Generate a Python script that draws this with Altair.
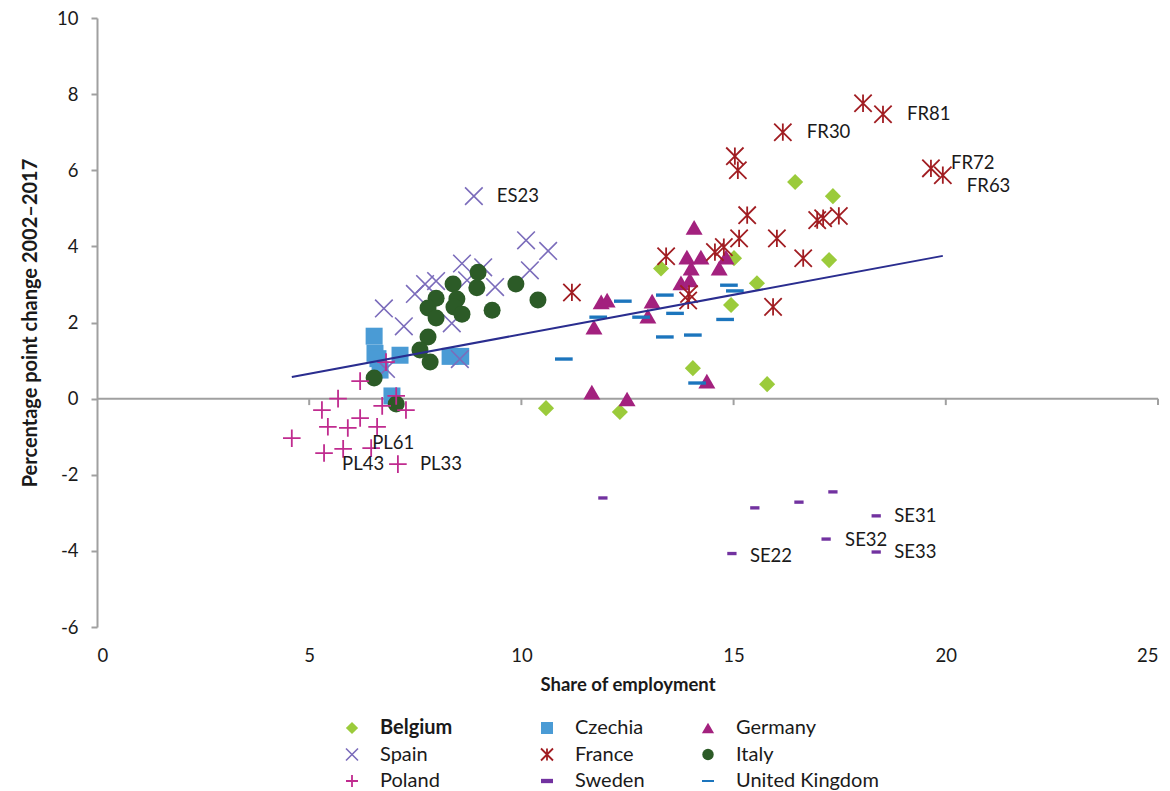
import altair as alt
import pandas as pd

FONT = "Lato"
TEXT = "#1a1a1a"
GRAY = "#a0a0a0"

# Share of employment (%) and percentage point change 2002-2017, by NUTS-2 region
belgium_x = [10.58, 12.32, 13.29, 14.04, 14.94, 15.01, 15.55, 15.79, 16.45, 17.25, 17.34]
belgium_y = [-0.25, -0.35, 3.42, 0.80, 2.46, 3.69, 3.03, 0.38, 5.69, 3.64, 5.32]

czechia_x = [6.53, 6.55, 6.62, 7.14, 6.67, 6.95, 8.32, 8.57]
czechia_y = [1.64, 1.19, 1.05, 1.14, 0.75, 0.07, 1.11, 1.11]

germany_x = [14.07, 13.90, 14.23, 14.00, 14.66, 14.82, 13.76, 13.97, 13.08, 12.98,
             11.88, 12.02, 11.71, 11.66, 12.49, 14.37]
germany_y = [4.50, 3.72, 3.72, 3.43, 3.43, 3.72, 3.04, 3.12, 2.56, 2.17,
             2.54, 2.59, 1.88, 0.17, -0.01, 0.46]

spain_x = [8.88, 10.11, 10.63, 10.20, 8.60, 9.10, 9.38, 7.73, 7.99, 7.49,
           6.76, 7.23, 8.36, 8.55, 6.81, 8.72]
spain_y = [5.32, 4.16, 3.88, 3.37, 3.55, 3.45, 2.93, 3.01, 3.09, 2.75,
           2.37, 1.90, 1.98, 1.04, 0.78, 3.11]
spain_code = ["ES23"] + [""] * 15

france_x = [18.05, 18.52, 16.16, 15.03, 15.10, 19.65, 19.93, 15.32, 15.13, 16.02,
            16.97, 17.11, 17.48, 16.64, 13.41, 14.56, 14.77, 13.95, 13.93, 15.93, 11.19]
france_y = [7.76, 7.47, 7.00, 6.37, 6.00, 6.05, 5.87, 4.82, 4.21, 4.21,
            4.69, 4.74, 4.80, 3.69, 3.74, 3.85, 3.98, 2.75, 2.58, 2.41, 2.79]
france_code = ["", "FR81", "FR30", "", "", "FR72", "FR63"] + [""] * 14

italy_x = [8.98, 8.95, 9.87, 10.39, 9.31, 8.39, 8.48, 8.41, 8.60, 7.99,
           7.80, 7.99, 7.80, 7.61, 7.85, 6.53, 7.05]
italy_y = [3.32, 2.91, 3.01, 2.59, 2.32, 3.01, 2.62, 2.41, 2.22, 2.64,
           2.38, 2.12, 1.62, 1.28, 0.96, 0.54, -0.14]

poland_x = [6.20, 5.68, 5.30, 6.20, 5.44, 5.91, 6.60, 6.72, 7.05, 7.28,
            6.81, 4.59, 5.35, 5.80, 6.46, 7.09]
poland_y = [0.46, 0.00, -0.30, -0.51, -0.74, -0.77, -0.74, -0.19, 0.07, -0.30,
            0.96, -1.04, -1.43, -1.32, -1.30, -1.72]
poland_code = [""] * 12 + ["PL43", "", "PL61", "PL33"]

sweden_x = [11.92, 15.50, 16.54, 17.34, 18.36, 17.18, 18.36, 14.96]
sweden_y = [-2.61, -2.87, -2.72, -2.45, -3.08, -3.69, -4.03, -4.07]
sweden_code = ["", "", "", "", "SE31", "SE32", "SE33", "SE22"]

uk_x = [11.00, 11.81, 12.39, 12.82, 13.38, 13.62, 13.38, 14.04, 14.89, 15.03, 14.80, 14.14]
uk_y = [1.04, 2.14, 2.56, 2.14, 2.72, 2.24, 1.62, 1.67, 2.98, 2.83, 2.08, 0.41]

# Linear trend across all regions
trend_x = [4.59, 19.93]
trend_y = [0.57, 3.75]

countries = ["Belgium", "Czechia", "Germany", "Spain", "France",
             "Italy", "Poland", "Sweden", "United Kingdom"]
values = {
    "Belgium": (belgium_x, belgium_y, None),
    "Czechia": (czechia_x, czechia_y, None),
    "Germany": (germany_x, germany_y, None),
    "Spain": (spain_x, spain_y, spain_code),
    "France": (france_x, france_y, france_code),
    "Italy": (italy_x, italy_y, None),
    "Poland": (poland_x, poland_y, poland_code),
    "Sweden": (sweden_x, sweden_y, sweden_code),
    "United Kingdom": (uk_x, uk_y, None),
}

# Marker styles: shape, filled, colour, stroke width, size in plot, size in legend
X_PATH = "M-1,-1L1,1M-1,1L1,-1"
PLUS_PATH = "M-1,0L1,0M0,-1L0,1"
STAR_PATH = "M-1,-1L1,1M-1,1L1,-1M0,-1L0,1"
SHORT_DASH = "M-1,-0.36L1,-0.36L1,0.36L-1,0.36Z"
LONG_DASH = "M-1,-0.19L1,-0.19L1,0.19L-1,0.19Z"
LEGEND_DASH = "M-1,-0.17L1,-0.17L1,0.17L-1,0.17Z"
styles = {
    "Belgium": dict(shape="diamond", filled=True, color="#9bcb3b", sw=0, size=260, lsize=150),
    "Czechia": dict(shape="square", filled=True, color="#4a9bd5", sw=0, size=289, lsize=144),
    "Germany": dict(shape="triangle-up", filled=True, color="#a3217e", sw=0, size=289, lsize=150),
    "Spain": dict(shape=X_PATH, filled=False, color="#7b6cbb", sw=1.6, size=310, lsize=144),
    "France": dict(shape=STAR_PATH, filled=False, color="#a11d22", sw=1.8, size=300, lsize=144),
    "Italy": dict(shape="circle", filled=True, color="#2c5b27", sw=0, size=289, lsize=130),
    "Poland": dict(shape=PLUS_PATH, filled=False, color="#c02b8f", sw=1.8, size=310, lsize=144),
    "Sweden": dict(shape=SHORT_DASH, filled=True, color="#7232a0", sw=0, size=86, lsize=144),
    "United Kingdom": dict(shape=LONG_DASH, filled=True, color="#1c75bd", sw=0, size=313, lsize=144),
}
legend_shape = {"United Kingdom": LEGEND_DASH}

# Offsets of the region labels from their markers (dx, dy)
label_offsets = {
    "ES23": (23, 0), "FR30": (24, 0), "FR81": (24, 0), "FR72": (20, -5), "FR63": (24, 11),
    "SE31": (18, 0), "SE32": (19, 1), "SE33": (18, 0), "SE22": (18, 2),
    "PL61": (1, -5), "PL43": (18, 11), "PL33": (22, 0),
}

x_ticks = [0, 5, 10, 15, 20, 25]
y_ticks = list(range(-6, 11, 2))

x_scale = alt.Scale(domain=[0, 25], nice=False, zero=False)
y_scale = alt.Scale(domain=[-6, 10], nice=False, zero=False)
x_axis = alt.Axis(values=x_ticks, domain=False, ticks=False, tickSize=0, grid=False,
                  labelPadding=19, labelFont=FONT, labelFontSize=18.5, labelColor=TEXT,
                  title="Share of employment", titleFont=FONT, titleFontSize=18.5,
                  titleFontWeight="bold", titleColor=TEXT, titlePadding=11)
y_axis = alt.Axis(values=y_ticks, grid=False, domainColor=GRAY, domainWidth=2,
                  tickColor=GRAY, tickWidth=2, tickSize=6, labelPadding=13,
                  labelExpr="datum.value + ''", labelFont=FONT, labelFontSize=18.5,
                  labelColor=TEXT, title="Percentage point change 2002–2017",
                  titleFont=FONT, titleFontSize=20, titleFontWeight="bold",
                  titleColor=TEXT, titlePadding=16)


def X(field):
    return alt.X(field, type="quantitative", scale=x_scale, axis=x_axis)


def Y(field):
    return alt.Y(field, type="quantitative", scale=y_scale, axis=y_axis)


def marker(data, st, size, shape=None):
    if st["filled"]:
        mark = dict(filled=True, color=st["color"], strokeWidth=0, opacity=1)
    else:
        mark = dict(filled=False, color=st["color"], strokeWidth=st["sw"], opacity=1)
    return alt.Chart(data).mark_point(shape=shape or st["shape"], size=size, **mark)


layers = []

# zero line with its tick marks
zero_df = pd.DataFrame({"x": [x_ticks[0]], "x2": [x_ticks[-1]], "y": [0]})
layers.append(alt.Chart(zero_df).mark_rule(color=GRAY, strokeWidth=2).encode(
    x=X("x"), x2="x2", y=Y("y")))
tick_df = pd.DataFrame({"x": x_ticks[1:], "y": [0] * 5, "y2": [-0.17] * 5})
layers.append(alt.Chart(tick_df).mark_rule(color=GRAY, strokeWidth=2).encode(
    x=X("x"), y=Y("y"), y2="y2"))

label_rows = []
for c in countries:
    xs, ys, codes = values[c]
    df = pd.DataFrame({"x": xs, "y": ys})
    layers.append(marker(df, styles[c], styles[c]["size"]).encode(x=X("x"), y=Y("y")))
    if codes:
        for xv, yv, code in zip(xs, ys, codes):
            if code:
                label_rows.append((code, xv, yv))

trend_df = pd.DataFrame({"x": trend_x, "y": trend_y})
layers.append(alt.Chart(trend_df).mark_line(color="#2a2d8f", strokeWidth=2).encode(
    x=X("x"), y=Y("y")))

for code, xv, yv in label_rows:
    dx, dy = label_offsets[code]
    df = pd.DataFrame({"x": [xv], "y": [yv], "code": [code]})
    layers.append(alt.Chart(df).mark_text(
        align="left", baseline="middle", dx=dx, dy=dy, font=FONT, fontSize=18.5, color=TEXT
    ).encode(x=X("x"), y=Y("y"), text="code:N"))

main = alt.layer(*layers).properties(width=1061, height=609)

# Legend: three columns of three entries
legend_columns = [["Belgium", "Spain", "Poland"],
                  ["Czechia", "France", "Sweden"],
                  ["Germany", "Italy", "United Kingdom"]]
column_widths = [195, 161, 220]
lx = alt.X("pos:Q", scale=alt.Scale(domain=[0, 1]), axis=None)
ly = alt.Y("row:O", scale=alt.Scale(domain=[0, 1, 2], padding=0), axis=None)

legend_charts = [
    alt.Chart(pd.DataFrame({"pos": [0], "row": [0]})).mark_point(opacity=0).encode(
        x=lx, y=ly).properties(width=255, height=53)
]
for names, w in zip(legend_columns, column_widths):
    items = []
    for r, n in enumerate(names):
        df = pd.DataFrame({"pos": [0], "row": [r], "name": [n]})
        st = styles[n]
        items.append(marker(df, st, st["lsize"], legend_shape.get(n)).encode(x=lx, y=ly))
        items.append(alt.Chart(df).mark_text(
            align="left", baseline="middle", dx=28, font=FONT, fontSize=20, color=TEXT,
            fontWeight="bold" if n == "Belgium" else "normal"
        ).encode(x=lx, y=ly, text="name:N"))
    legend_charts.append(alt.layer(*items).properties(width=w, height=53))

legend = alt.hconcat(*legend_charts, spacing=0, bounds="flush")

chart = alt.vconcat(main, legend, spacing=24).properties(
    padding={"left": 20, "top": 9, "right": 0, "bottom": 0}
).configure_view(strokeWidth=0)

chart.save("out.html", embed_options={"renderer": "svg", "actions": False})
